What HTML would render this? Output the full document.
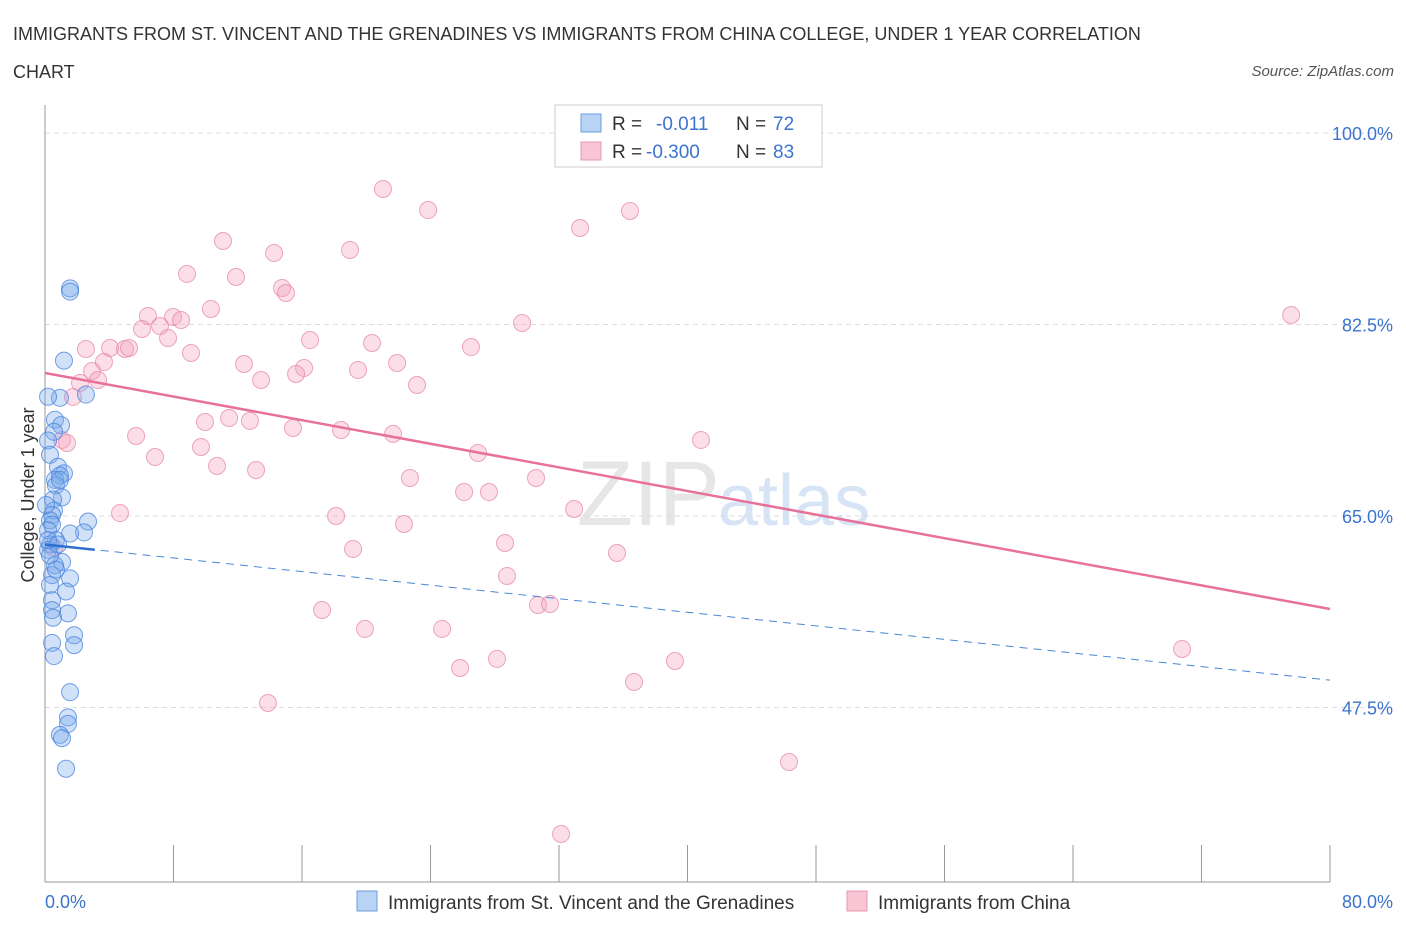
<!DOCTYPE html>
<html><head><meta charset="utf-8"><style>
body{margin:0;background:#fff;font-family:"Liberation Sans",sans-serif}
svg text{font-family:"Liberation Sans",sans-serif}
</style></head><body>
<svg id="chart" width="1406" height="930" viewBox="0 0 1406 930" xmlns="http://www.w3.org/2000/svg">
<text x="13" y="40" font-size="18" fill="#333">IMMIGRANTS FROM ST. VINCENT AND THE GRENADINES VS IMMIGRANTS FROM CHINA COLLEGE, UNDER 1 YEAR CORRELATION</text>
<text x="13" y="78" font-size="18" fill="#333">CHART</text>
<text x="1394" y="76" font-size="15" fill="#555" font-style="italic" text-anchor="end">Source: ZipAtlas.com</text>
<text x="720" y="525" font-size="92" fill="#e6e6e6" text-anchor="end" font-family="Liberation Serif">ZIP</text>
<text x="718" y="525" font-size="72" fill="#d6e4f5">atlas</text>
<g id="grid"></g>
<g id="axes"></g>
<g id="marks"></g>
<text transform="translate(34,495) rotate(-90)" font-size="18" fill="#333" text-anchor="middle">College, Under 1 year</text>
<g>
<rect x="555" y="105" width="267" height="62" fill="#fff" stroke="#ccc"/>
<rect x="581" y="114" width="20" height="18" fill="#b9d3f5" stroke="#6a9ee0"/>
<rect x="581" y="142" width="20" height="18" fill="#f8c5d4" stroke="#e898b0"/>
<text x="612" y="130" font-size="19" fill="#333">R = </text><text x="656" y="130" font-size="19" fill="#3b73d0">-0.011</text>
<text x="736" y="130" font-size="19" fill="#333">N = </text><text x="773" y="130" font-size="19" fill="#3b73d0">72</text>
<text x="612" y="158" font-size="19" fill="#333">R = </text><text x="646" y="158" font-size="19" fill="#3b73d0">-0.300</text>
<text x="736" y="158" font-size="19" fill="#333">N = </text><text x="773" y="158" font-size="19" fill="#3b73d0">83</text>
</g>
<g>
<rect x="357" y="891" width="20" height="20" fill="#b9d3f5" stroke="#6a9ee0"/>
<text x="388" y="909" font-size="19" fill="#333">Immigrants from St. Vincent and the Grenadines</text>
<rect x="847" y="891" width="20" height="20" fill="#f8c5d4" stroke="#e898b0"/>
<text x="878" y="909" font-size="19" fill="#333">Immigrants from China</text>
</g>
</svg>
<script>
const yTicks=[100,82.5,65,47.5];
const yTickLabels=["100.0%","82.5%","65.0%","47.5%"];
const xTickLabels=["0.0%","80.0%"];
const blueX=[1.56,1.56,1.18,2.55,0.93,0.19,0.62,1.0,0.56,0.19,0.31,0.81,1.18,0.93,0.62,0.68,1.06,0.5,0.56,0.44,0.31,2.68,0.44,0.19,2.43,1.56,0.68,0.31,0.19,1.06,0.62,0.44,1.56,0.31,1.31,0.44,1.43,0.44,0.5,1.81,1.81,0.44,0.56,1.56,1.43,1.43,0.93,1.06,1.31,0.19,0.31,0.68,0.81,0.06,0.93];
const blueY=[85.8,85.5,79.2,76.1,75.8,75.9,73.8,73.3,72.7,71.9,70.6,69.5,68.9,68.7,68.3,67.8,66.7,66.5,65.5,65.1,64.6,64.5,64.2,63.7,63.5,63.4,62.8,62.4,61.9,60.8,60.5,59.6,59.3,58.7,58.1,57.3,56.1,56.4,55.7,54.1,53.2,53.4,52.2,48.9,46.6,46.0,45.0,44.7,41.9,62.8,61.4,60.1,62.4,66.0,68.3];
const pinkX=[21.04,23.85,36.42,33.31,11.08,14.26,18.99,8.84,11.89,14.76,15.0,10.33,29.7,6.41,7.97,8.47,77.58,6.04,7.16,7.66,16.5,20.36,26.52,2.55,4.05,4.98,5.23,9.09,3.67,12.39,21.92,2.93,19.49,16.13,15.63,13.45,3.3,2.18,23.16,1.74,9.96,11.46,12.76,15.44,18.43,21.67,5.67,1.06,1.37,9.71,40.84,6.85,26.96,10.71,13.14,22.72,30.57,26.09,27.64,4.67,32.94,18.12,22.35,28.64,19.18,35.61,28.76,0.56,17.25,30.69,31.44,19.92,24.72,70.79,28.14,25.84,39.22,36.67,13.88,46.32,32.13];
const pinkY=[94.88,92.96,92.87,91.32,90.13,89.03,89.31,87.12,86.84,85.84,85.38,83.92,82.64,83.28,83.19,82.91,83.37,82.09,82.36,81.27,81.08,80.81,80.44,80.26,80.35,80.26,80.35,79.9,79.07,78.89,78.98,78.25,78.34,78.53,77.98,77.43,77.43,77.16,76.97,75.88,73.59,73.96,73.69,73.04,72.86,72.5,72.31,71.95,71.67,71.31,71.95,70.39,70.76,69.57,69.2,68.47,68.47,67.19,67.19,65.27,65.64,65.0,64.27,62.53,61.99,61.62,59.52,62.08,56.41,56.87,56.96,54.68,54.68,52.85,51.94,51.11,51.75,49.83,47.91,42.52,35.94];
const pinkTrend=[78.07,56.5];
const blueTrend=[62.4,50.0];
const NS="http://www.w3.org/2000/svg";
const X=v=>45+v/80*1285;
const Y=v=>133+(100-v)/17.5*191.5;
function mk(tag,attrs,parent){const e=document.createElementNS(NS,tag);for(const k in attrs)e.setAttribute(k,attrs[k]);document.getElementById(parent).appendChild(e);return e;}
yTicks.forEach((t,i)=>{
 const l=mk('line',{x1:45,x2:1395,y1:Y(t),y2:Y(t),stroke:'#ddd','stroke-dasharray':'5,4'},'grid');
 
 
 const tx=mk('text',{x:1393,y:Y(t)+7,'font-size':18,fill:'#3b73d0','text-anchor':'end'},'axes');
 tx.textContent=yTickLabels[i];
 
 
});
const ax=mk('line',{x1:45,x2:45,y1:105,y2:882,stroke:'#999'},'axes');


const bx=mk('line',{x1:45,x2:1330,y1:882,y2:882,stroke:'#999'},'axes');


for(let i=0;i<=10;i++){
 const t=mk('line',{x1:X(i*8),x2:X(i*8),y1:845,y2:882,stroke:'#999'},'axes');
 
 
}
[[0,'start',45],[80,'end',1393]].forEach((d,i)=>{
 const t=mk('text',{x:d[2],y:908,'font-size':18,fill:'#3b73d0','text-anchor':d[1]},'axes');
 t.textContent=xTickLabels[i];
 
 
});
pinkX.forEach((x,i)=>{
 const c=mk('circle',{cx:X(x),cy:Y(pinkY[i]),r:8.5,fill:'rgba(244,160,185,0.35)',stroke:'rgba(230,130,165,0.7)','stroke-width':1},'marks');
 
 
});
blueX.forEach((x,i)=>{
 const c=mk('circle',{cx:X(x),cy:Y(blueY[i]),r:8.5,fill:'rgba(120,170,235,0.35)',stroke:'rgba(70,130,220,0.75)','stroke-width':1},'marks');
 
 
});
const pl=mk('line',{x1:X(0),y1:Y(pinkTrend[0]),x2:X(80),y2:Y(pinkTrend[1]),stroke:'#e8719a','stroke-width':2.5},'marks');


const bd=mk('line',{x1:X(0),y1:Y(blueTrend[0]),x2:X(80),y2:Y(blueTrend[1]),stroke:'#4a86d8','stroke-width':1,'stroke-dasharray':'8,6'},'marks');


const bs=mk('line',{x1:X(0),y1:Y(blueTrend[0]),x2:X(3.1),y2:Y(blueTrend[0]+(blueTrend[1]-blueTrend[0])*3.1/80),stroke:'#2e6fd0','stroke-width':2.5},'marks');


</script>
</body></html>
